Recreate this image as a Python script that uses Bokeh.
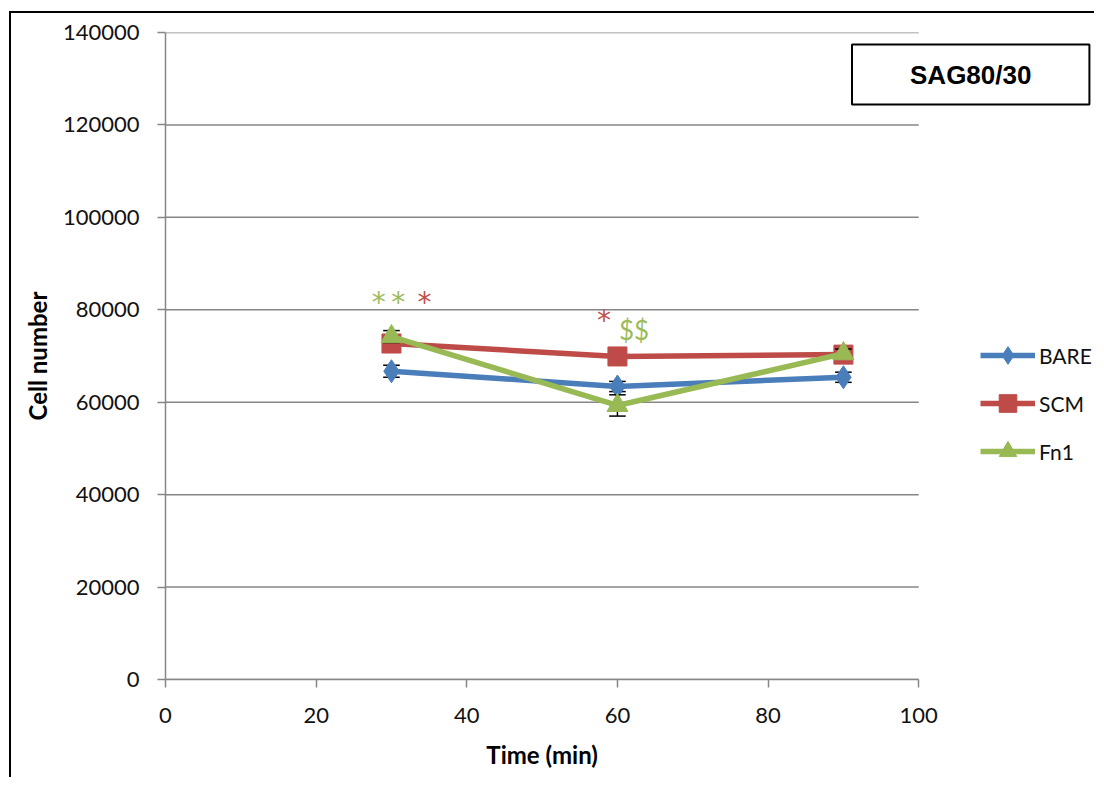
from bokeh.plotting import figure
from bokeh.models import (Range1d, FixedTicker, BasicTickFormatter, Legend, LegendItem, Label, LinearAxis)
from bokeh.core.properties import value
from bokeh.embed import file_html
from bokeh.resources import INLINE

# ---- data ----
time_min = [30, 60, 90]
bare = [66700, 63400, 65400]
scm = [72700, 69900, 70300]
fn1 = [74200, 59300, 70500]
bare_err = [1300, 1100, 1100]
scm_err = [1500, 800, 1000]
fn1_err = [1300, 2300, 1000]
series_names = ["BARE", "SCM", "Fn1"]
x_ticks = [0, 20, 40, 60, 80, 100]
y_ticks = [0, 20000, 40000, 60000, 80000, 100000, 120000, 140000]
x_title = "Time (min)"
y_title = "Cell number"

# significance marks
star_x = [28.3, 30.9, 34.4, 58.2]
star_y = [81500, 81500, 81500, 77600]
star_color = ["#9BBB59", "#9BBB59", "#C0504D", "#C0504D"]
dollar_x = [62.2]
dollar_y = [75600]
dollar_text = ["$$"]

panel_title = "SAG80/30"

colors = ["#4A7EBB", "#BE4B48", "#98B954"]
FONT = "Lato"

p = figure(width=1085, height=766, output_backend="svg", toolbar_location=None,
           x_range=Range1d(0, 123.6), y_range=Range1d(0, 140000),
           min_border_left=154, min_border_right=0, min_border_top=19, min_border_bottom=100)
p.styles = {"border-left": "2px solid black", "border-top": "2px solid black",
            "margin-left": "9px", "margin-top": "11px"}
p.outline_line_color = None
p.background_fill_color = "white"
p.border_fill_color = "white"

# axes
p.xaxis.ticker = FixedTicker(ticks=x_ticks)
p.yaxis.ticker = FixedTicker(ticks=y_ticks)
p.yaxis.formatter = BasicTickFormatter(use_scientific=False)
p.xaxis.bounds = (0, 100)
for ax in (p.xaxis[0], p.yaxis[0]):
    ax.axis_line_color = "#868686"
    ax.axis_line_width = 1.5
    ax.major_tick_line_color = "#868686"
    ax.major_tick_line_width = 1.5
    ax.major_tick_out = 8
    ax.major_tick_in = 0
    ax.minor_tick_line_color = None
    ax.major_label_text_font = FONT
    ax.major_label_text_font_size = "22px"
    ax.major_label_text_color = "#111111"
    ax.axis_label_text_font = FONT
    ax.axis_label_text_font_size = "24px"
    ax.axis_label_text_font_style = "bold"
    ax.axis_label_text_color = "#000000"
p.yaxis.axis_label = y_title
p.xaxis.major_label_standoff = 20
p.yaxis.major_label_standoff = 18
p.yaxis.axis_label_standoff = 8

# x-axis title centred under the 0..100 span of the axis
title_axis = LinearAxis(ticker=FixedTicker(ticks=[50]), major_label_overrides={50: x_title},
                        axis_line_color=None, major_tick_line_color=None, minor_tick_line_color=None,
                        major_label_text_font=FONT, major_label_text_font_size="24px",
                        major_label_text_font_style="bold", major_label_text_color="#000000",
                        major_label_standoff=8)
p.add_layout(title_axis, "below")

p.xgrid.grid_line_color = None
p.ygrid.grid_line_color = None
# horizontal grid lines limited to the 0..100 span of the x axis
p.segment([x_ticks[0]] * len(y_ticks), y_ticks, [x_ticks[-1]] * len(y_ticks), y_ticks,
          line_color="#868686", line_width=1.5)

items = []
markers = ["diamond", "square", "triangle"]
sizes = [23, 19, 21]
for name, ys, errs, c, m, s in zip(series_names, [bare, scm, fn1], [bare_err, scm_err, fn1_err],
                                   colors, markers, sizes):
    lo = [y - e for y, e in zip(ys, errs)]
    hi = [y + e for y, e in zip(ys, errs)]
    p.segment(time_min, lo, time_min, hi, line_color="black", line_width=1.5)
    xl = [x - 1.1 for x in time_min]
    xr = [x + 1.1 for x in time_min]
    p.segment(xl, lo, xr, lo, line_color="black", line_width=1.5)
    p.segment(xl, hi, xr, hi, line_color="black", line_width=1.5)
    ln = p.line(time_min, ys, line_color=c, line_width=5.5)
    sc = p.scatter(time_min, ys, marker=m, size=s, fill_color=c, line_color=c)
    items.append(LegendItem(label=name, renderers=[ln, sc]))

p.text(star_x, star_y, text=["*"] * len(star_x), text_color=star_color,
       text_font=value("DejaVu Sans"), text_font_size="28px",
       text_align="center", text_baseline="middle")
p.text(dollar_x, dollar_y, text=dollar_text, text_color="#9BBB59",
       text_font=value(FONT), text_font_size="26px",
       text_align="center", text_baseline="middle")

legend = Legend(items=items, location=(815, 206), padding=0, margin=0,
                glyph_width=55, glyph_height=44, label_height=44, spacing=4,
                label_standoff=4, label_text_font=FONT, label_text_font_size="21px",
                label_text_color="#111111",
                border_line_color=None, background_fill_alpha=0)
p.add_layout(legend, "center")

lab = Label(x=106.9, y=130900, text=panel_title, text_align="center", text_baseline="middle",
            text_font="Liberation Sans", text_font_style="bold", text_font_size="26px",
            text_color="black", border_line_color="black", border_line_width=2,
            background_fill_color="white",
            padding=dict(left=58, right=58, top=15, bottom=15))
p.add_layout(lab)

open("out.html", "w").write(file_html(p, INLINE))
